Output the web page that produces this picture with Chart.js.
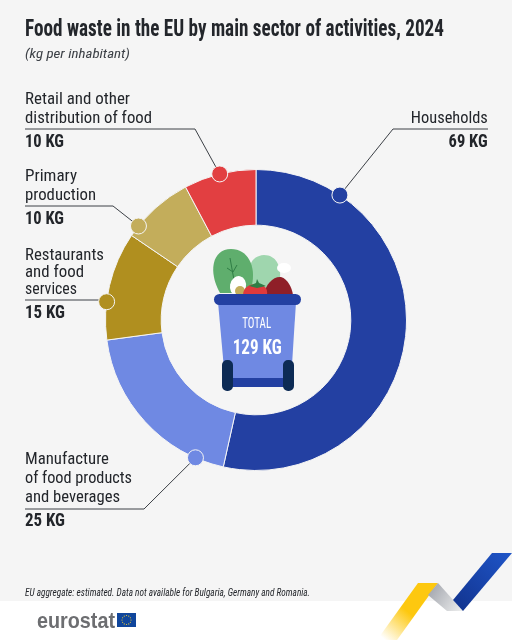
<!DOCTYPE html>
<html>
<head>
<meta charset="utf-8">
<script src="https://cdn.jsdelivr.net/npm/chart.js@4/dist/chart.umd.min.js"></script>
<style>
  html, body { margin: 0; padding: 0; background: #fff; }
  #wrap { position: relative; width: 512px; height: 640px; overflow: hidden; font-family: "Liberation Sans Narrow", "Roboto Condensed", "DejaVu Sans Condensed", sans-serif; color: #23262b; }
  #chart { position: absolute; left: 0; top: 0; }
  .t { position: absolute; white-space: nowrap; line-height: 1; }
</style>
</head>
<body>
<div id="wrap"><canvas id="chart" width="512" height="640" style="width:512px;height:640px"></canvas></div>
<script>
const categories = ['Households', 'Manufacture of food products and beverages', 'Restaurants and food services', 'Primary production', 'Retail and other distribution of food'];
const values = [69, 25, 15, 10, 10];
const colors = ['#2340a2', '#6f89e3', '#b08f1f', '#c3ad5b', '#e23f41'];

// where the marker sits along each slice, and the elbow of its leader line
const dotAlong = [0.176, 0.16, 0.35, 0.16, 0.5];
const leaders = [
    [[488, 129], [393, 129]],
    [[25, 509], [144, 509]],
    [[25, 300], [100, 300]],
    [[25, 206], [113, 206]],
    [[25, 129], [195, 129]]
];

const background = '#f5f5f5';

function drawBin(ctx) {
    // leaves
    ctx.fillStyle = '#9fd6ae';
    ctx.beginPath();
    ctx.moveTo(250, 293);
    ctx.bezierCurveTo(246, 268, 250, 256, 264, 255);
    ctx.bezierCurveTo(276, 255, 281, 266, 280, 278);
    ctx.lineTo(272, 293);
    ctx.fill();

    ctx.fillStyle = '#5fae6d';
    ctx.beginPath();
    ctx.moveTo(220, 293);
    ctx.bezierCurveTo(208, 272, 212, 249, 231, 249);
    ctx.bezierCurveTo(248, 249, 256, 266, 252, 285);
    ctx.lineTo(249, 293);
    ctx.fill();
    ctx.strokeStyle = '#2f7d45';
    ctx.lineWidth = 1;
    ctx.beginPath();
    ctx.moveTo(230, 258);
    ctx.lineTo(234, 280);
    ctx.moveTo(227, 268);
    ctx.lineTo(233, 272);
    ctx.lineTo(237, 265);
    ctx.stroke();

    ctx.fillStyle = '#ffffff';
    ctx.beginPath();
    ctx.ellipse(284, 268, 7, 5, 0, 0, Math.PI * 2);
    ctx.fill();
    ctx.beginPath();
    ctx.ellipse(238, 286, 8, 10, 0.2, 0, Math.PI * 2);
    ctx.fill();
    ctx.fillStyle = '#c3ad5b';
    ctx.beginPath();
    ctx.arc(240, 291, 5, 0, Math.PI * 2);
    ctx.fill();

    // meat and tomato
    ctx.fillStyle = '#8f1f28';
    ctx.beginPath();
    ctx.moveTo(264, 295);
    ctx.bezierCurveTo(265, 284, 274, 276, 281, 277);
    ctx.bezierCurveTo(288, 279, 292, 288, 293, 295);
    ctx.fill();
    ctx.fillStyle = '#e03a3c';
    ctx.beginPath();
    ctx.moveTo(243, 295);
    ctx.bezierCurveTo(243, 287, 250, 284, 257, 284);
    ctx.bezierCurveTo(264, 284, 268, 288, 267, 295);
    ctx.fill();
    ctx.fillStyle = '#2f7d45';
    ctx.beginPath();
    ctx.moveTo(249, 286);
    ctx.lineTo(256, 283);
    ctx.lineTo(257, 279);
    ctx.lineTo(259, 283);
    ctx.lineTo(266, 286);
    ctx.lineTo(257, 288);
    ctx.fill();

    // bin body
    ctx.fillStyle = '#6f89e3';
    ctx.beginPath();
    ctx.moveTo(218, 302);
    ctx.lineTo(296, 302);
    ctx.lineTo(291, 380);
    ctx.lineTo(225, 380);
    ctx.fill();
    ctx.fillStyle = '#2340a2';
    ctx.fillRect(232, 378, 52, 9);
    ctx.beginPath();
    ctx.roundRect(214, 294, 87, 11, 5.5);
    ctx.fill();

    // wheels
    ctx.fillStyle = '#0d2b55';
    ctx.beginPath();
    ctx.roundRect(222, 360, 11, 31, 5);
    ctx.roundRect(283, 360, 11, 31, 5);
    ctx.fill();
}

function drawFooter(ctx) {
    ctx.fillStyle = '#ffffff';
    ctx.fillRect(0, 601, 512, 39);

    const yellow = ctx.createLinearGradient(428, 590, 385, 640);
    yellow.addColorStop(0, '#fdc80f');
    yellow.addColorStop(0.45, '#fdc80f');
    yellow.addColorStop(1, 'rgba(253,200,15,0)');
    ctx.fillStyle = yellow;
    ctx.beginPath();
    ctx.moveTo(418, 583);
    ctx.lineTo(438, 583);
    ctx.lineTo(397, 640);
    ctx.lineTo(377, 640);
    ctx.fill();

    const grey = ctx.createLinearGradient(432, 590, 462, 610);
    grey.addColorStop(0, '#a9acb3');
    grey.addColorStop(1, '#eceded');
    ctx.fillStyle = grey;
    ctx.beginPath();
    ctx.moveTo(438, 583);
    ctx.lineTo(463, 611);
    ctx.lineTo(447, 611);
    ctx.lineTo(428, 595);
    ctx.fill();

    const blue = ctx.createLinearGradient(512, 553, 458, 611);
    blue.addColorStop(0, '#1f55c8');
    blue.addColorStop(1, '#12348f');
    ctx.fillStyle = blue;
    ctx.beginPath();
    ctx.moveTo(492, 553);
    ctx.lineTo(512, 553);
    ctx.lineTo(463, 611);
    ctx.lineTo(453, 600);
    ctx.fill();

    // EU flag
    ctx.fillStyle = '#10469c';
    ctx.fillRect(117, 613, 19, 14);
    ctx.fillStyle = '#f5d033';
    for (let i = 0; i < 12; i++) {
        const a = i * Math.PI / 6;
        ctx.beginPath();
        ctx.arc(126.5 + Math.cos(a) * 4.5, 620 + Math.sin(a) * 4.5, 0.6, 0, Math.PI * 2);
        ctx.fill();
    }
}

const sceneryPlugin = {
    id: 'scenery',
    beforeDraw(chart) {
        const ctx = chart.ctx;
        ctx.save();
        ctx.fillStyle = background;
        ctx.fillRect(0, 0, 512, 640);
        drawFooter(ctx);
        ctx.restore();
    },
    afterDraw(chart) {
        const ctx = chart.ctx;
        ctx.save();
        drawBin(ctx);

        chart.getDatasetMeta(0).data.forEach((arc, i) => {
            const a = arc.startAngle + (arc.endAngle - arc.startAngle) * dotAlong[i];
            const x = arc.x + Math.cos(a) * arc.outerRadius;
            const y = arc.y + Math.sin(a) * arc.outerRadius;

            ctx.strokeStyle = '#3c4046';
            ctx.lineWidth = 1;
            ctx.beginPath();
            ctx.moveTo(leaders[i][0][0], leaders[i][0][1]);
            ctx.lineTo(leaders[i][1][0], leaders[i][1][1]);
            ctx.lineTo(x, y);
            ctx.stroke();

            ctx.fillStyle = colors[i];
            ctx.strokeStyle = '#f5f5f5';
            ctx.lineWidth = 1;
            ctx.beginPath();
            ctx.arc(x, y, 8, 0, Math.PI * 2);
            ctx.fill();
            ctx.stroke();
        });
        ctx.restore();
    }
};

new Chart(document.getElementById('chart'), {
    type: 'doughnut',
    data: {
        labels: categories,
        datasets: [{
            data: values,
            backgroundColor: colors,
            borderColor: background,
            borderWidth: 1
        }]
    },
    options: {
        responsive: false,
        animation: false,
        cutout: '63%',
        layout: { padding: { top: 169, bottom: 169, left: 105, right: 105 } },
        plugins: {
            legend: { display: false },
            tooltip: { enabled: false }
        }
    },
    plugins: [sceneryPlugin]
});

// text: [string, x, top, size, width it has to fill, extra css]
const texts = [
    ['Food waste in the EU by main sector of activities, 2024', 25, 17, 23, 419, 'font-weight:700'],
    ['(kg per inhabitant)', 25, 47, 13, 105, 'font-style:italic;color:#3c4046'],
    ['Retail and other', 25, 90, 17, 105, ''],
    ['distribution of food', 25, 109, 17, 127, ''],
    ['10 KG', 25, 132, 18, 39, 'font-weight:700'],
    ['Households', 488, 109, 17, 77, 'text-align:right'],
    ['69 KG', 488, 132, 18, 39, 'font-weight:700;text-align:right'],
    ['Primary', 25, 167, 17, 52, ''],
    ['production', 25, 186, 17, 71, ''],
    ['10 KG', 25, 209, 18, 39, 'font-weight:700'],
    ['Restaurants', 25, 246, 17, 79, ''],
    ['and food', 25, 263, 17, 59, ''],
    ['services', 25, 280, 17, 52, ''],
    ['15 KG', 25, 303, 18, 40, 'font-weight:700'],
    ['Manufacture', 25, 450, 17, 84, ''],
    ['of food products', 25, 469, 17, 107, ''],
    ['and beverages', 25, 488, 17, 95, ''],
    ['25 KG', 25, 511, 18, 40, 'font-weight:700'],
    ['TOTAL', 257, 316, 15, 29, 'text-align:center;color:#fff'],
    ['129 KG', 257, 337, 21, 49, 'text-align:center;color:#fff;font-weight:700'],
    ['EU aggregate: estimated. Data not available for Bulgaria, Germany and Romania.', 25, 587, 11, 285, 'font-style:italic'],
    ['eurostat', 37, 610, 22, 78, 'font-family:\'Liberation Sans\',sans-serif;font-weight:700;color:#6d6e71']
];

const wrap = document.getElementById('wrap');
texts.forEach(([str, x, top, size, fill, css]) => {
    const el = document.createElement('div');
    el.className = 't';
    el.textContent = str;
    const right = css.includes('text-align:right');
    const center = css.includes('text-align:center');
    el.style.cssText = 'top:' + top + 'px;font-size:' + size + 'px;' + css;
    wrap.appendChild(el);

    // no condensed face is installed that fits, so squeeze to the measured width
    const natural = el.getBoundingClientRect().width;
    const left = right ? x - natural : center ? x - natural / 2 : x;
    el.style.left = left + 'px';
    el.style.transformOrigin = right ? '100% 50%' : center ? '50% 50%' : '0 50%';
    el.style.transform = 'scaleX(' + (fill / natural) + ')';
});
</script>
</body>
</html>
